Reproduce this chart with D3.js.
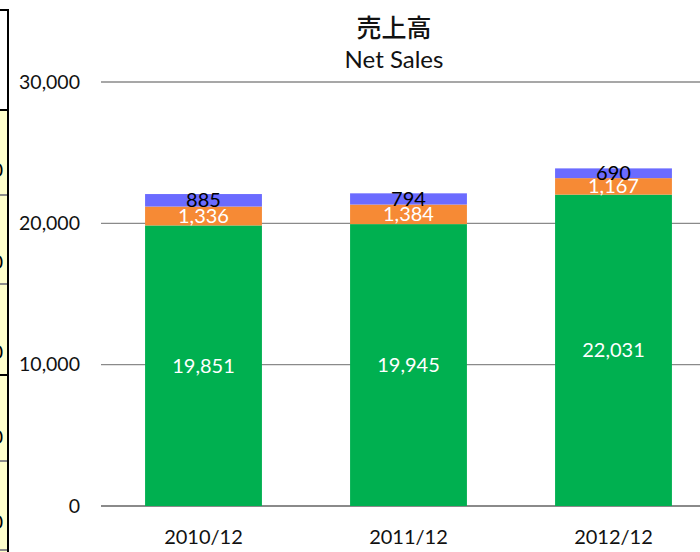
<!DOCTYPE html>
<html>
<head>
<meta charset="utf-8">
<script src="https://cdn.jsdelivr.net/npm/d3@7"></script>
<style>
  body { margin: 0; background: #fff; }
  svg { display: block; }
</style>
</head>
<body>
<svg id="vis" width="700" height="552"></svg>
<script>
// 売上高 chart - stacked bars per fiscal year

const years = ["2010/12", "2011/12", "2012/12"];
const mainSales = [19851, 19945, 22031];
const midSales = [1336, 1384, 1167];
const topSales = [885, 794, 690];
const yTicks = [0, 10000, 20000, 30000];

const svg = d3.select('#vis');
const WIDTH = 700, HEIGHT = 552;
const font = "Lato, 'Open Sans', sans-serif";

// cropped table at the left edge of the screenshot
svg.append("rect").attr("x", 0).attr("y", 110).attr("width", 8).attr("height", 442).attr("fill", "#ffffcc");
[195, 284, 461, 550].forEach(function (y) {
    svg.append("line").attr("x1", 0).attr("x2", 8).attr("y1", y).attr("y2", y)
        .attr("stroke", "#8c8c8c").attr("stroke-width", 2);
});
[110, 375].forEach(function (y) {
    svg.append("line").attr("x1", 0).attr("x2", 9).attr("y1", y).attr("y2", y)
        .attr("stroke", "#000").attr("stroke-width", 2);
});
// clipped digits of the cropped table
[170, 262, 352, 437, 522].forEach(function (y) {
    svg.append("text").attr("x", 3).attr("y", y).attr("dy", "0.35em")
        .attr("text-anchor", "end").attr("font-family", font).attr("font-size", 20)
        .attr("fill", "#000").text("0");
});
svg.append("line").attr("x1", 0).attr("x2", 9).attr("y1", 10).attr("y2", 10).attr("stroke", "#000").attr("stroke-width", 2);
svg.append("line").attr("x1", 8).attr("x2", 8).attr("y1", 9).attr("y2", 552).attr("stroke", "#000").attr("stroke-width", 2);

var x = d3.scaleBand()
    .domain(years)
    .range([101, 716])
    .paddingInner(0.43)
    .paddingOuter(0.215);

var y = d3.scaleLinear()
    .domain([0, 30000])
    .range([506, 82]);

// gridlines
svg.selectAll(".grid")
    .data(yTicks)
    .enter().append("line")
    .attr("class", "grid")
    .attr("x1", 101).attr("x2", WIDTH)
    .attr("y1", function (d) { return y(d); })
    .attr("y2", function (d) { return y(d); })
    .attr("stroke", "#8a8a8a")
    .attr("stroke-width", function (d) { return d === 0 ? 2 : 1.3; });

// y labels
svg.selectAll(".ylab")
    .data(yTicks)
    .enter().append("text")
    .attr("class", "ylab")
    .attr("x", 80)
    .attr("y", function (d) { return y(d); })
    .attr("dy", "0.35em")
    .attr("text-anchor", "end")
    .attr("font-family", font)
    .attr("font-size", 19.5)
    .attr("fill", "#111")
    .text(d3.format(","));

// stack
var rows = years.map(function (yr, i) {
    return { year: yr, main: mainSales[i], mid: midSales[i], top: topSales[i] };
});
var keys = ["main", "mid", "top"];
var colors = { main: "#00b050", mid: "#f68a35", top: "#6b6bff" };
var labelColor = { main: "#fff", mid: "#fff", top: "#000" };
var series = d3.stack().keys(keys)(rows);

var layer = svg.selectAll(".layer")
    .data(series)
    .enter().append("g")
    .attr("class", "layer");

layer.selectAll("rect")
    .data(function (s) { return s.map(function (d) { return { key: s.key, d: d }; }); })
    .enter().append("rect")
    .attr("x", function (p) { return x(p.d.data.year); })
    .attr("width", x.bandwidth())
    .attr("y", function (p) { return y(p.d[1]); })
    .attr("height", function (p) { return y(p.d[0]) - y(p.d[1]); })
    .attr("fill", function (p) { return colors[p.key]; });

layer.selectAll("text")
    .data(function (s) { return s.map(function (d) { return { key: s.key, d: d }; }); })
    .enter().append("text")
    .attr("x", function (p) { return x(p.d.data.year) + x.bandwidth() / 2; })
    .attr("y", function (p) { return (y(p.d[0]) + y(p.d[1])) / 2; })
    .attr("dy", "0.35em")
    .attr("text-anchor", "middle")
    .attr("font-family", font)
    .attr("font-size", 20)
    .attr("fill", function (p) { return labelColor[p.key]; })
    .text(function (p) { return d3.format(",")(p.d.data[p.key]); });

// x labels
svg.selectAll(".xlab")
    .data(years)
    .enter().append("text")
    .attr("class", "xlab")
    .attr("x", function (d) { return x(d) + x.bandwidth() / 2; })
    .attr("y", 537)
    .attr("dy", "0.35em")
    .attr("text-anchor", "middle")
    .attr("font-family", font)
    .attr("font-size", 20)
    .attr("fill", "#111")
    .text(function (d) { return d; });

// title
svg.append("text")
    .attr("x", 394).attr("y", 28).attr("dy", "0.35em")
    .attr("text-anchor", "middle")
    .attr("font-family", "'Noto Sans CJK JP', sans-serif")
    .attr("font-size", 25)
    .attr("font-weight", 500)
    .attr("fill", "#111")
    .text("売上高");
svg.append("text")
    .attr("x", 394).attr("y", 60).attr("dy", "0.35em")
    .attr("text-anchor", "middle")
    .attr("font-family", font)
    .attr("font-size", 24)
    .attr("fill", "#111")
    .text("Net Sales");
</script>
</body>
</html>
